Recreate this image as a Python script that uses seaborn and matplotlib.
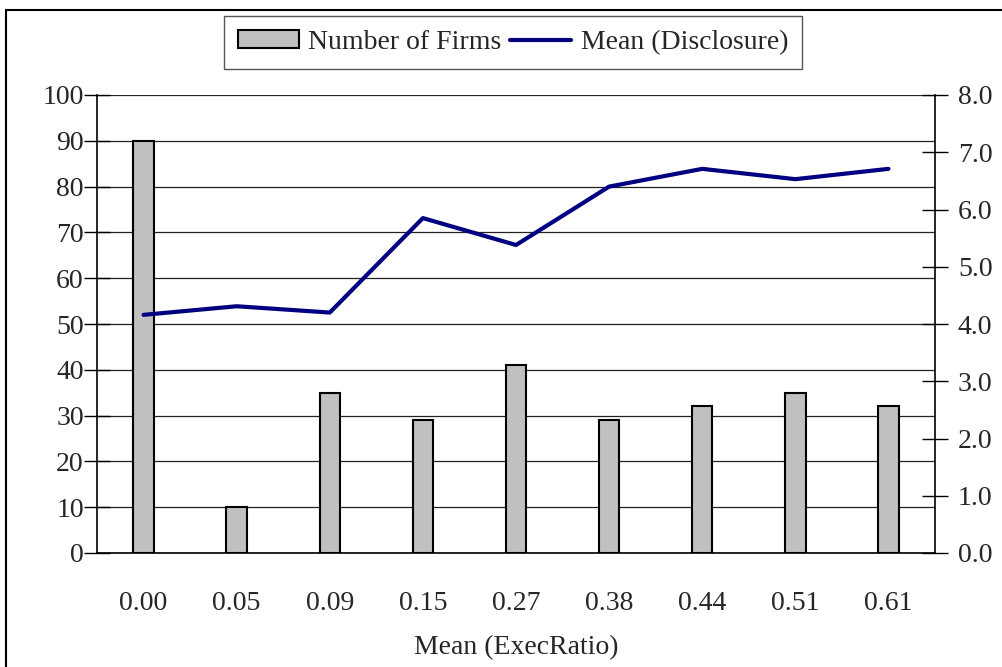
"""
Number of firms and mean disclosure score by ExecRatio group.
Bars = firm count (left axis), line = mean disclosure (right axis).
"""

import numpy as np
import pandas as pd
import matplotlib
matplotlib.use("Agg")
import matplotlib.pyplot as plt
from matplotlib.lines import Line2D
from matplotlib.patches import Patch
import seaborn as sns

# data
exec_ratio = ["0.00", "0.05", "0.09", "0.15", "0.27", "0.38", "0.44", "0.51", "0.61"]
n_firms = [90, 10, 35, 29, 41, 29, 32, 35, 32]
mean_disclosure = [4.16, 4.31, 4.20, 5.85, 5.38, 6.40, 6.71, 6.53, 6.71]
left_ticks = [0, 10, 20, 30, 40, 50, 60, 70, 80, 90, 100]
right_ticks = [0.0, 1.0, 2.0, 3.0, 4.0, 5.0, 6.0, 7.0, 8.0]

df = pd.DataFrame({"exec_ratio": exec_ratio, "firms": n_firms,
                   "disclosure": mean_disclosure})
df["pos"] = np.arange(len(df))

sns.set_style("white")
plt.rcParams["font.family"] = ["Liberation Serif", "DejaVu Serif"]
plt.rcParams["font.size"] = 20

bar_color = "#C0C0C0"
line_color = "#000080"

fig = plt.figure(figsize=(10.03, 6.67), dpi=100)
ax = fig.add_axes([97 / 1003, 1 - 553 / 667, (935 - 97) / 1003, (553 - 95) / 667])

sns.barplot(data=df, x="exec_ratio", y="firms", order=exec_ratio, color=bar_color,
            saturation=1, width=0.22, edgecolor="black", linewidth=1.5, ax=ax)

ax.set_xlim(-0.5, len(df) - 0.5)
ax.set_ylim(0, 100)
ax.set_yticks(left_ticks)
ax.yaxis.grid(True, color="#222222", linewidth=0.9)
ax.set_axisbelow(True)
ax.set_ylabel("")
ax.set_xlabel("Mean (ExecRatio)", labelpad=14)

# x ticks sit on the category boundaries, labels at the centres
ax.set_xticks(df["pos"])
ax.set_xticklabels(exec_ratio)
ax.set_xticks(np.arange(-0.5, len(df), 1.0), minor=True)
ax.tick_params(axis="x", which="major", length=0, pad=27)
ax.tick_params(axis="x", which="minor", direction="inout", length=17, width=1, color="black")
ax.tick_params(axis="y", direction="inout", length=19, width=1, color="black", pad=0)

for side in ["left", "bottom"]:
    ax.spines[side].set_color("black")
    ax.spines[side].set_linewidth(1.2)
ax.spines["top"].set_visible(False)
ax.spines["right"].set_visible(False)

ax2 = ax.twinx()
sns.lineplot(data=df, x="pos", y="disclosure", color=line_color, linewidth=3,
             sort=False, ax=ax2)
ax2.set_ylim(0, 8)
ax2.set_yticks(right_ticks)
ax2.set_yticklabels([f"{t:.1f}" for t in right_ticks])
ax2.set_ylabel("")
ax2.tick_params(axis="y", direction="inout", length=19, width=1, color="black", pad=7)
ax2.spines["right"].set_color("black")
ax2.spines["right"].set_linewidth(1.2)
for side in ["left", "top", "bottom"]:
    ax2.spines[side].set_visible(False)

handles = [Patch(facecolor=bar_color, edgecolor="black", linewidth=1.5),
           Line2D([0], [0], color=line_color, linewidth=3)]
fig.legend(handles, ["Number of Firms", "Mean (Disclosure)"], loc="upper center",
           bbox_to_anchor=(513 / 1003, 1 - 16 / 667), ncol=2, frameon=True,
           fancybox=False, edgecolor="#555555", framealpha=1, handlelength=2.2,
           handleheight=0.6, handletextpad=0.35, columnspacing=0.3,
           borderpad=0.5, borderaxespad=0)

# outer frame: only left and top edges show in the reference
fig.add_artist(Line2D([6 / 1003, 6 / 1003], [0, 1 - 10 / 667], transform=fig.transFigure,
                      color="black", linewidth=1.5))
fig.add_artist(Line2D([6 / 1003, 1], [1 - 10 / 667, 1 - 10 / 667], transform=fig.transFigure,
                      color="black", linewidth=1.5))

fig.savefig("out.png", dpi=100)
